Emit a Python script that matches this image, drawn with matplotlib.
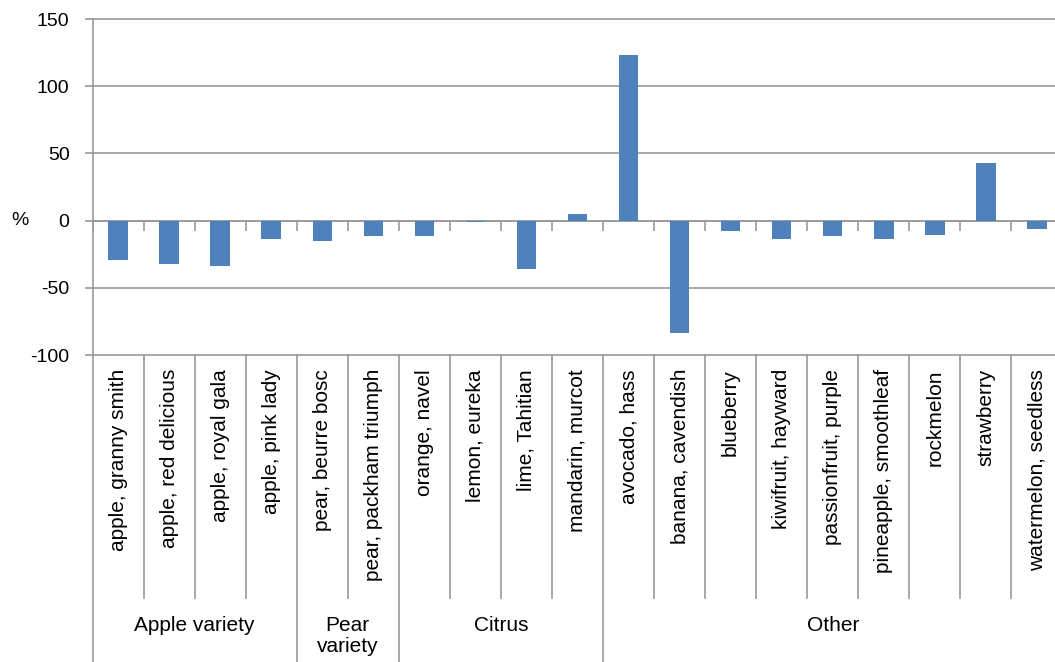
import numpy as np
import matplotlib.pyplot as plt
from matplotlib import transforms

# values (% change)
categories = ['apple, granny smith', 'apple, red delicious', 'apple, royal gala',
              'apple, pink lady', 'pear, beurre bosc', 'pear, packham triumph',
              'orange, navel', 'lemon, eureka', 'lime, Tahitian', 'mandarin, murcot',
              'avocado, hass', 'banana, cavendish', 'blueberry', 'kiwifruit, hayward',
              'passionfruit, purple', 'pineapple, smoothleaf', 'rockmelon',
              'strawberry', 'watermelon, seedless']
changes = [-29, -32, -34, -14, -15.5, -11.5, -11.5, -1, -36, 5,
           123.5, -83.5, -8, -14, -11.5, -14, -10.5, 42.5, -6.5]
groups = ['Apple variety', 'Pear\nvariety', 'Citrus', 'Other']
group_sizes = [4, 2, 4, 9]
yticks = [-100, -50, 0, 50, 100, 150]

plt.rcParams['font.family'] = ['Liberation Sans', 'DejaVu Sans']
plt.rcParams['axes.unicode_minus'] = False

BLUE = '#4f81bd'
GRID = '#9a9a9a'
FS = 14
FS_CAT = 15

W, H = 1055, 662
fig = plt.figure(figsize=(W / 100, H / 100), dpi=100)

# plot area in pixels (right edge runs a little past the picture)
left, right = 92.5, 1062.5
top, bottom = 19, 355
ax = fig.add_axes([left / W, 1 - bottom / H, (right - left) / W, (bottom - top) / H])

n = len(categories)
x = np.arange(n)
ax.bar(x, changes, width=0.38, color=BLUE, zorder=3)
ax.set_xlim(-0.5, n - 0.5)
ax.set_ylim(yticks[0], yticks[-1])
ax.set_yticks(yticks)
ax.yaxis.grid(True, color=GRID, lw=1.2)
for gl in ax.get_ygridlines():
    gl.set_clip_on(False)
ax.set_axisbelow(True)

for s in ['top', 'right']:
    ax.spines[s].set_visible(False)
ax.spines['left'].set_color(GRID)
ax.spines['left'].set_linewidth(1.2)
ax.spines['bottom'].set_position(('data', 0))
ax.spines['bottom'].set_color(GRID)
ax.spines['bottom'].set_linewidth(1.2)

ax.set_xticks([])
ax.set_xticks(np.arange(n + 1) - 0.5, minor=True)
ax.tick_params(axis='x', which='minor', length=7, width=1.2, color=GRID, direction='out')
ax.tick_params(axis='y', length=6, width=1.2, color=GRID, direction='out',
               labelsize=FS, pad=10.5)

# "%" unit label at the zero level
tr = transforms.blended_transform_factory(fig.transFigure, ax.transData)
ax.text(20 / W, 0, '%', transform=tr, ha='center', va='center', fontsize=FS)

# two-level category axis below the plot
lax = fig.add_axes([left / W, 0, (right - left) / W, 1 - bottom / H])
lax.set_xlim(-0.5, n - 0.5)
lax.set_ylim(0, 1)
lax.axis('off')

edges = np.cumsum([0] + group_sizes) - 0.5
sep_low = (H - 598) / (H - bottom)
for b in np.arange(n + 1) - 0.5:
    lo = 0 if b in edges else sep_low
    lax.plot([b, b], [lo, 1], color=GRID, lw=1.2, clip_on=False)

cat_top = (H - 369) / (H - bottom)
for i, cat in enumerate(categories):
    lax.text(i, cat_top, cat, rotation=90, ha='center', va='top', fontsize=FS_CAT)

grp_top = (H - 616) / (H - bottom)
for g, a, b in zip(groups, edges[:-1], edges[1:]):
    lax.text((a + b) / 2, grp_top, g, ha='center', va='top', fontsize=FS_CAT,
             linespacing=1.15)

fig.savefig('out.png', dpi=100)
